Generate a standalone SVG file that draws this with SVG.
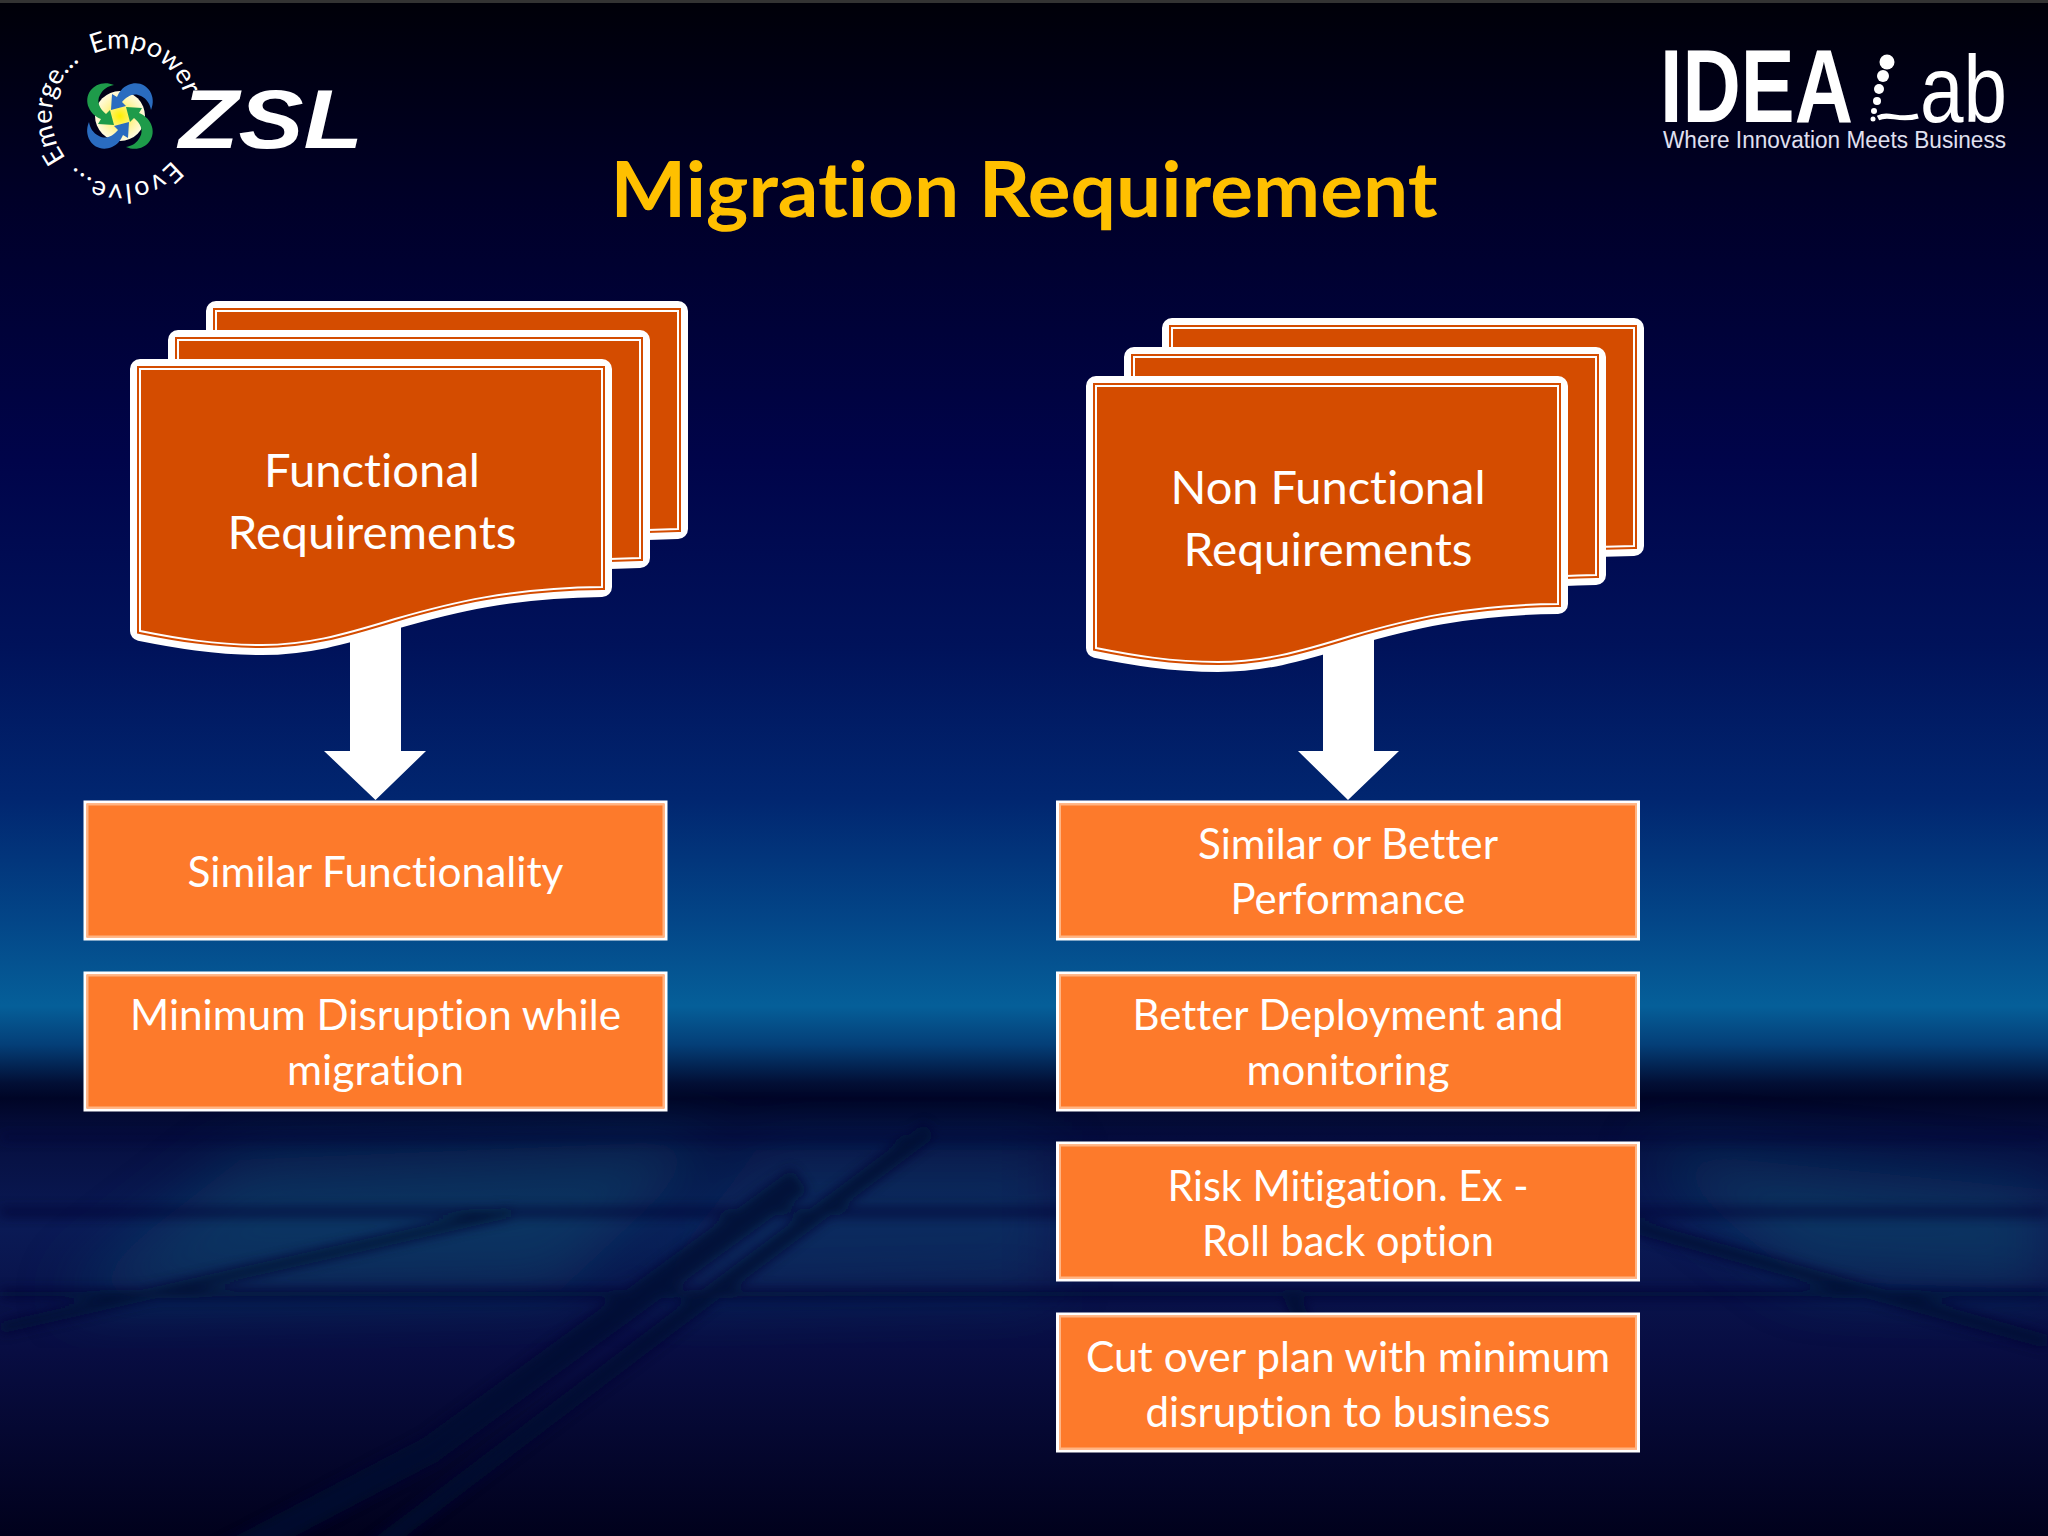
<svg xmlns="http://www.w3.org/2000/svg" xmlns:xlink="http://www.w3.org/1999/xlink" width="2048" height="1536" viewBox="0 0 2048 1536">
<style>
.t{font-family:"Lato","Liberation Sans",sans-serif;fill:#fff;text-anchor:middle;font-variant-ligatures:none}
.doc{font-size:46px}
.box{font-size:42px}
.title{font-size:76px;font-weight:700;fill:#FFC000}
.b{fill:#FD7A2B;stroke:#fff;stroke-width:3}
.bi{fill:none;stroke:#FFB483;stroke-width:2}
.ring{font-family:"Lato","Liberation Sans",sans-serif;font-size:27px;fill:#fff}
.arrow{fill:#fff}
</style>
<defs>
<linearGradient id="bg" x1="0" y1="0" x2="0" y2="1">
<stop offset="0" stop-color="#000008"/>
<stop offset="0.13" stop-color="#000028"/>
<stop offset="0.3" stop-color="#00044A"/>
<stop offset="0.42" stop-color="#00125A"/>
<stop offset="0.52" stop-color="#012670"/>
<stop offset="0.6" stop-color="#034688"/>
<stop offset="0.655" stop-color="#055F99"/>
<stop offset="0.68" stop-color="#043F78"/>
<stop offset="0.705" stop-color="#020F35"/>
<stop offset="0.715" stop-color="#000526"/>
<stop offset="0.74" stop-color="#060F40"/>
<stop offset="0.8" stop-color="#0A1A55"/>
<stop offset="0.88" stop-color="#080D42"/>
<stop offset="1" stop-color="#01011C"/>
</linearGradient>
<radialGradient id="glow"><stop offset="0" stop-color="#FFF000"/><stop offset="0.6" stop-color="#FFF4A0"/><stop offset="1" stop-color="#FFFBE0"/></radialGradient>
<filter id="blur" x="-20%" y="-20%" width="140%" height="140%"><feGaussianBlur stdDeviation="6"/></filter>
<filter id="blur2" x="-30%" y="-30%" width="160%" height="160%"><feGaussianBlur stdDeviation="30"/></filter>
<path id="dp" d="M140,369 H602 V587 C510,588 450,603 395,619 C340,636 305,645 262,645 C215,645 175,638 140,631 Z"/>
<g id="docshape">
<use xlink:href="#dp" href="#dp" fill="#fff" stroke="#fff" stroke-width="20" stroke-linejoin="round"/>
<use xlink:href="#dp" href="#dp" fill="#D44C00" stroke="#D44C00" stroke-width="6"/>
<use xlink:href="#dp" href="#dp" fill="#D44C00" stroke="#fff" stroke-width="2"/>
</g>
<path id="sw" d="M-6,-31 C-22,-38 -38,-24 -31,-8 C-29,-3 -24,1 -19,3 L-22,8 L-6,9 L-10,-6 L-14,-2 C-20,-7 -24,-14 -20,-21 C-17,-27 -12,-30 -6,-31 Z"/>
<path id="a1" d="M66,158 A68,68 0 0 1 95,53"/>
<path id="a2" d="M93,54 A68,68 0 0 1 188,116"/>
<path id="a3" d="M172,160 A68,68 0 0 1 62,152"/>
</defs>

<g id="background">
<rect width="2048" height="1536" fill="url(#bg)"/>
<rect width="2048" height="3" fill="#333"/>
<g filter="url(#blur2)" opacity="0.5">
<path d="M60,1300 L240,1160 L720,1140 L560,1290 Z" fill="#0F4E6E"/>
<path d="M1640,1150 L2048,1190 L2048,1290 L1800,1280 Z" fill="#0F4E6E"/>
<path d="M760,1150 L1050,1150 L1050,1290 L640,1300 Z" fill="#0E3A68"/>
</g>
<g filter="url(#blur)" fill="none" stroke="#030830" stroke-width="18" opacity="0.8">
<path d="M930,1130 L692,1308 L360,1560"/>
<path d="M800,1180 L430,1450 L220,1560" stroke-width="28"/>
<path d="M510,1212 L0,1328" stroke-width="12"/>
<path d="M1633,1226 L2048,1342" stroke-width="14"/>
<path d="M1290,1294 L1340,1400" stroke-width="16"/>
<path d="M0,1212 H2048" stroke-width="7"/>
<path d="M0,1294 H2048" stroke-width="9"/>
<path d="M0,1137 H2048" stroke-width="5"/>
</g>
</g>

<g id="logo-zsl">
<circle cx="120" cy="116" r="25" fill="url(#glow)"/>
<g transform="translate(120,116)">
<use href="#sw" fill="#1E9B4A"/>
<use href="#sw" fill="#2A6CC0" transform="rotate(90)"/>
<use href="#sw" fill="#1E9B4A" transform="rotate(180)"/>
<use href="#sw" fill="#2A6CC0" transform="rotate(270)"/>
</g>
<text class="ring"><textPath href="#a1">Emerge...</textPath></text>
<text class="ring"><textPath href="#a2">Empower</textPath></text>
<text class="ring" letter-spacing="1.500"><textPath href="#a3">Evolve...</textPath></text>
<text x="179" y="148" font-family="Liberation Sans,sans-serif" font-size="84" font-weight="700" font-style="italic" fill="#fff" textLength="184" lengthAdjust="spacingAndGlyphs">ZSL</text>
</g>

<g id="logo-idealab" fill="#fff" font-family="Liberation Sans,sans-serif">
<text x="1660" y="122" font-size="104" font-weight="700" textLength="193" lengthAdjust="spacingAndGlyphs">IDEA</text>
<circle cx="1887" cy="62" r="7.5"/><circle cx="1883" cy="76" r="6"/><circle cx="1879" cy="89" r="5"/><circle cx="1877" cy="101" r="4"/><circle cx="1874" cy="111" r="3"/><circle cx="1873" cy="119" r="2.5"/>
<path d="M1878,118 C1890,112 1898,122 1918,116" fill="none" stroke="#fff" stroke-width="5"/>
<text x="1920" y="122" font-size="95" textLength="87" lengthAdjust="spacingAndGlyphs">ab</text>
<text x="1663" y="148" font-size="23" fill="#E0E0F0" textLength="343" lengthAdjust="spacingAndGlyphs">Where Innovation Meets Business</text>
</g>

<text id="title" class="t title" x="1024" y="217" textLength="827" lengthAdjust="spacingAndGlyphs">Migration Requirement</text>

<g id="connectors">
<path class="arrow" d="M350,600 H401 V751 H426 L375.500,800 L324,751 H350 Z"/>
<path class="arrow" d="M1323,620 H1374 V751 H1399 L1348,800 L1298,751 H1323 Z"/>
</g>

<g id="node-functional">
<use href="#docshape" transform="translate(76,-58)"/>
<use href="#docshape" transform="translate(38,-29)"/>
<use href="#docshape"/>
<text class="t doc" x="372" y="487" textLength="216" lengthAdjust="spacingAndGlyphs">Functional</text>
<text class="t doc" x="372" y="549" textLength="289" lengthAdjust="spacingAndGlyphs">Requirements</text>
</g>
<g id="node-nonfunctional">
<use href="#docshape" transform="translate(1032,-41)"/>
<use href="#docshape" transform="translate(994,-12)"/>
<use href="#docshape" transform="translate(956,17)"/>
<text class="t doc" x="1328" y="504" textLength="315" lengthAdjust="spacingAndGlyphs">Non Functional</text>
<text class="t doc" x="1328" y="566" textLength="289" lengthAdjust="spacingAndGlyphs">Requirements</text>
</g>

<g id="node-f1"><rect class="b" x="85" y="802" width="581" height="137"/><rect class="bi" x="87.500" y="804.500" width="576" height="132"/>
<text class="t box" x="375.500" y="887" textLength="376" lengthAdjust="spacingAndGlyphs">Similar Functionality</text></g>
<g id="node-f2"><rect class="b" x="85" y="973" width="581" height="137"/><rect class="bi" x="87.500" y="975.500" width="576" height="132"/>
<text class="t box" x="375.500" y="1030" textLength="491" lengthAdjust="spacingAndGlyphs">Minimum Disruption while</text>
<text class="t box" x="375.500" y="1085" textLength="177" lengthAdjust="spacingAndGlyphs">migration</text></g>

<g id="node-n1"><rect class="b" x="1057.500" y="802" width="581" height="137"/><rect class="bi" x="1060" y="804.500" width="576" height="132"/>
<text class="t box" x="1348" y="859" textLength="300" lengthAdjust="spacingAndGlyphs">Similar or Better</text>
<text class="t box" x="1348" y="914" textLength="235" lengthAdjust="spacingAndGlyphs">Performance</text></g>
<g id="node-n2"><rect class="b" x="1057.500" y="973" width="581" height="137"/><rect class="bi" x="1060" y="975.500" width="576" height="132"/>
<text class="t box" x="1348" y="1030" textLength="431" lengthAdjust="spacingAndGlyphs">Better Deployment and</text>
<text class="t box" x="1348" y="1085" textLength="203" lengthAdjust="spacingAndGlyphs">monitoring</text></g>
<g id="node-n3"><rect class="b" x="1057.500" y="1143" width="581" height="137"/><rect class="bi" x="1060" y="1145.500" width="576" height="132"/>
<text class="t box" x="1348" y="1201" textLength="361" lengthAdjust="spacingAndGlyphs">Risk Mitigation. Ex -</text>
<text class="t box" x="1348" y="1256" textLength="292" lengthAdjust="spacingAndGlyphs">Roll back option</text></g>
<g id="node-n4"><rect class="b" x="1057.500" y="1314" width="581" height="137"/><rect class="bi" x="1060" y="1316.500" width="576" height="132"/>
<text class="t box" x="1348" y="1372" textLength="524" lengthAdjust="spacingAndGlyphs">Cut over plan with minimum</text>
<text class="t box" x="1348" y="1427" textLength="405" lengthAdjust="spacingAndGlyphs">disruption to business</text></g>
</svg>
